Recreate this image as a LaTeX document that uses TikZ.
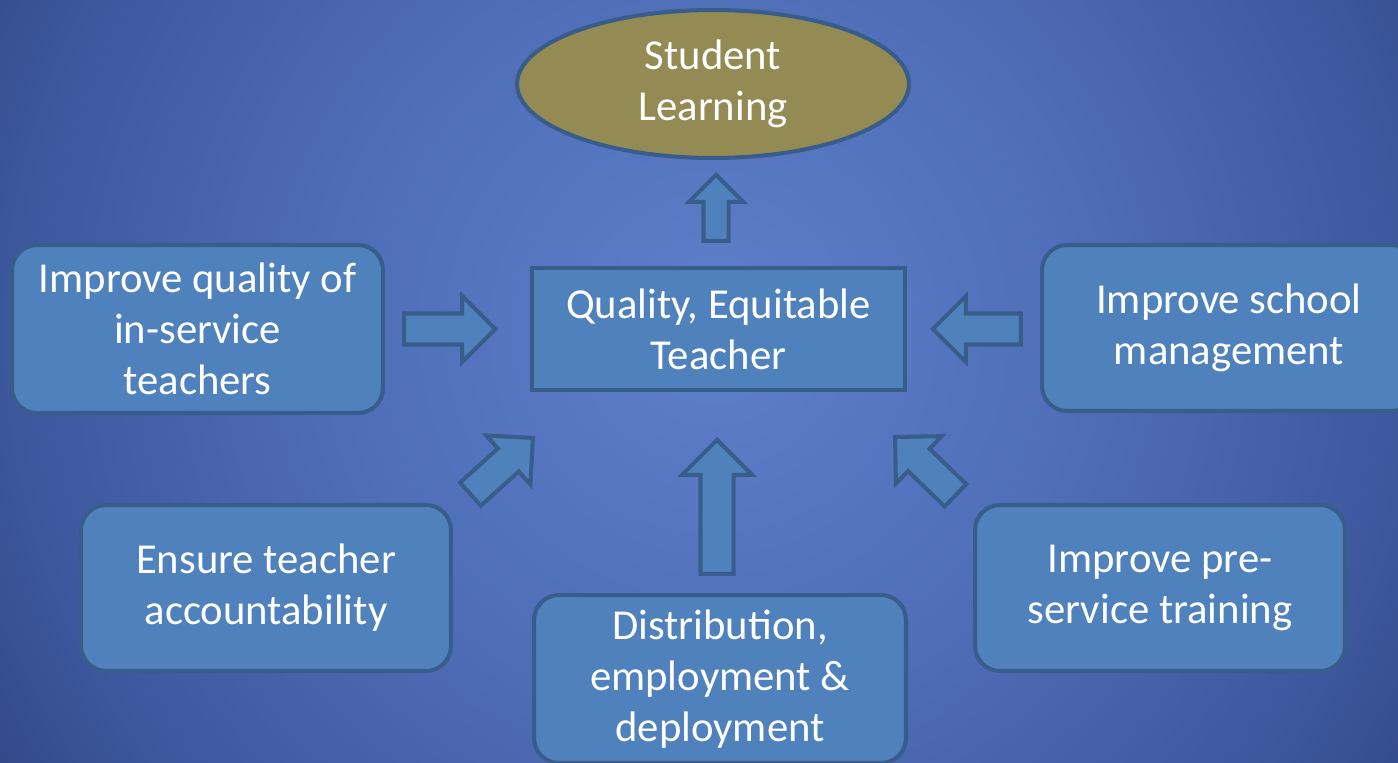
\documentclass[tikz,border=0pt]{standalone}
\usepackage{fontspec}
\setmainfont{Carlito}
\usetikzlibrary{shapes.geometric,shapes.arrows}

\definecolor{bgin}{RGB}{94,127,203}
\definecolor{bgmid}{RGB}{79,109,183}
\definecolor{bgedge}{RGB}{61,87,157}
\definecolor{bgout}{RGB}{50,74,138}
\definecolor{boxfill}{RGB}{79,129,189}
\definecolor{boxline}{RGB}{56,93,138}
\definecolor{goalfill}{RGB}{148,138,84}

\pgfdeclareradialshading{slideglow}{\pgfpoint{0bp}{0bp}}{color(0bp)=(bgin); color(12bp)=(bgmid); color(22bp)=(bgedge); color(26bp)=(bgout); color(50bp)=(bgout)}

\tikzset{
  goalbox/.style={draw=boxline, line width=2.3pt, text=white, align=center,
    inner sep=0pt, font=\fontsize{24.3}{29}\selectfont},
  plainbox/.style={goalbox, rectangle, fill=boxfill},
  roundbox/.style={goalbox, rectangle, rounded corners=0.5cm, fill=boxfill},
  blockarrow/.style={single arrow, draw=boxline, fill=boxfill, line width=2.3pt,
    inner xsep=0pt, anchor=tip}
}

\begin{document}
\begin{tikzpicture}[x=0.02cm, y=-0.02cm]
\useasboundingbox (0,0) rectangle (1398,763);
\clip (0,0) rectangle (1398,763);
\shade[shading=slideglow] (-87,-470) rectangle (1513,1130);

% goal and centre
\node [ellipse, goalbox, fill=goalfill, minimum width=7.84cm, minimum height=2.96cm] (learn) at (713,84) {Student\\Learning};
\node [plainbox, minimum width=7.46cm, minimum height=2.44cm] (teacher) at (718.5,329) {Quality, Equitable\\Teacher};

% the five levers
\node [roundbox, minimum width=7.42cm, minimum height=3.36cm] (inserv) at (197.5,329) {Improve quality of\\in-service\\teachers};
\node [roundbox, minimum width=7.48cm, minimum height=3.32cm] (school) at (1229,328) {Improve school\\management};
\node [roundbox, minimum width=7.40cm, minimum height=3.32cm] (account) at (266,588) {Ensure teacher\\accountability};
\node [roundbox, minimum width=7.40cm, minimum height=3.32cm] (preserv) at (1160,588) {Improve pre-\\service training};
\node [roundbox, minimum width=7.44cm, minimum height=3.36cm] (distrib) at (720,679) {Distribution,\\employment \&\\deployment};

% block arrows
\node [blockarrow, rotate=90, inner ysep=0.21cm, single arrow head extend=0.29cm, minimum height=1.32cm] (upgoal) at (716,172) {};
\node [blockarrow, inner ysep=0.27cm, single arrow head extend=0.35cm, minimum height=1.82cm] (frominserv) at (498,329) {};
\node [blockarrow, rotate=180, inner ysep=0.27cm, single arrow head extend=0.35cm, minimum height=1.76cm] (fromschool) at (930,329) {};
\node [blockarrow, rotate=90, inner ysep=0.29cm, single arrow head extend=0.37cm, minimum height=2.68cm] (fromdistrib) at (717,437) {};
\node [blockarrow, rotate=42, inner ysep=0.27cm, single arrow head extend=0.35cm, minimum height=1.68cm] (fromaccount) at (535,436) {};
\node [blockarrow, rotate=136, inner ysep=0.27cm, single arrow head extend=0.35cm, minimum height=1.68cm] (frompreserv) at (893,435) {};
\end{tikzpicture}
\end{document}
